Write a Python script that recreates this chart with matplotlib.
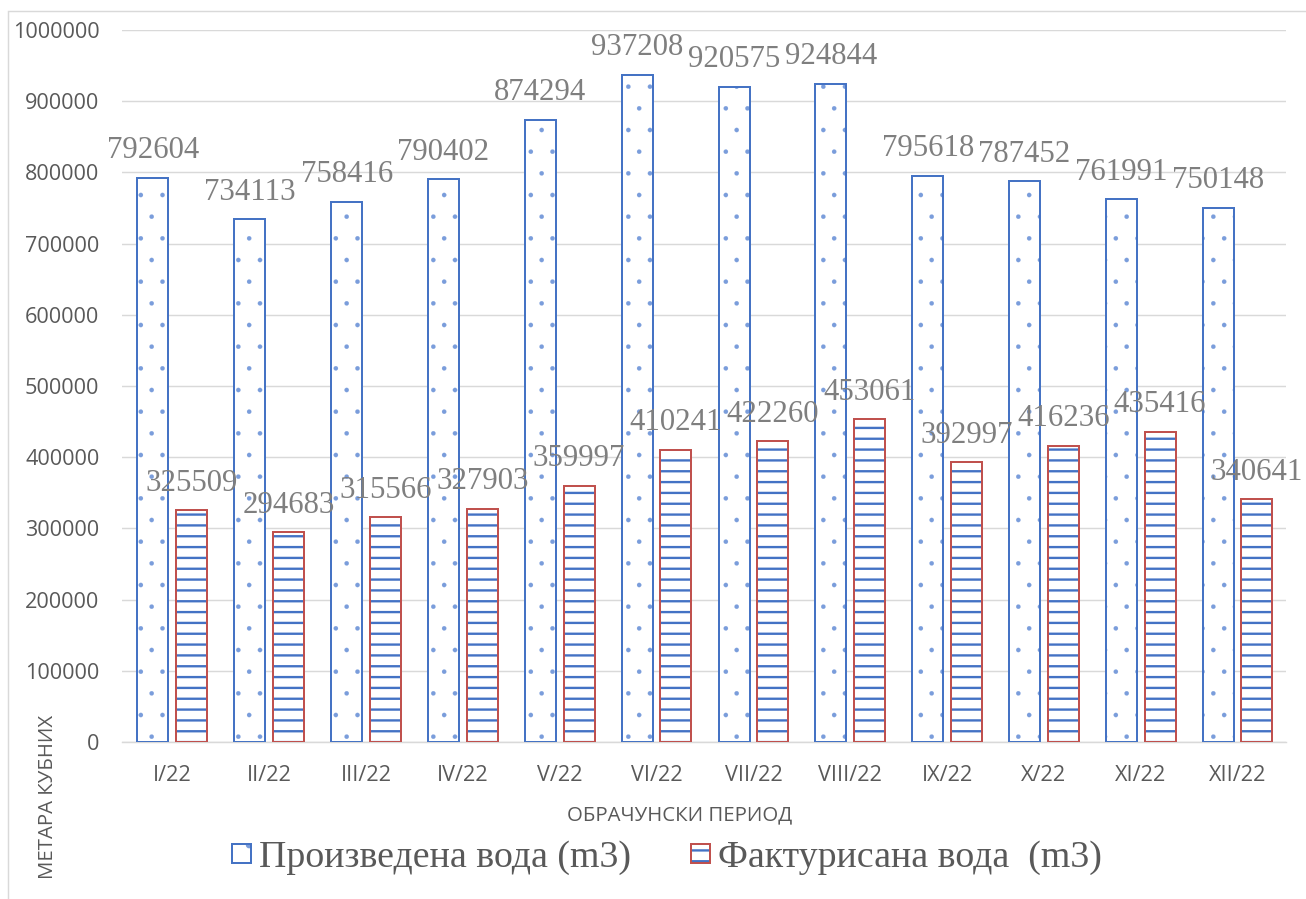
import numpy as np
import matplotlib
matplotlib.use('Agg')
import matplotlib.pyplot as plt
from matplotlib.patches import Patch, Rectangle

# data
periods = ['I/22', 'II/22', 'III/22', 'IV/22', 'V/22', 'VI/22', 'VII/22',
           'VIII/22', 'IX/22', 'X/22', 'XI/22', 'XII/22']
produced = [792604, 734113, 758416, 790402, 874294, 937208, 920575,
            924844, 795618, 787452, 761991, 750148]
billed = [325509, 294683, 315566, 327903, 359997, 410241, 422260,
          453061, 392997, 416236, 435416, 340641]

blue = '#4472C4'
dot_blue = '#7a9ddb'
red = '#C0504D'
grey_txt = '#595959'
lbl_txt = '#7f7f7f'

DPI = 130
fig = plt.figure(figsize=(1306 / DPI, 899 / DPI), dpi=DPI)
ax = fig.add_axes([122 / 1306, 1 - 742 / 899, (1286 - 122) / 1306, (742 - 30) / 899])

x = np.arange(len(periods))
w = 0.32
off = 0.2

# produced water: dotted fill with blue outline
plt.rcParams['hatch.linewidth'] = 0.1
ax.bar(x - off, produced, w, color='white', edgecolor=dot_blue, hatch='.', linewidth=0, zorder=2)
ax.bar(x - off, produced, w, fill=False, edgecolor=blue, linewidth=1.1, zorder=3)

# billed water: blue horizontal stripes with red outline
plt.rcParams['hatch.linewidth'] = 1.3
ax.bar(x + off, billed, w, color='white', edgecolor=blue, hatch='--', linewidth=0, zorder=2)
ax.bar(x + off, billed, w, fill=False, edgecolor=red, linewidth=1.1, zorder=3)

for xi, v in zip(x, produced):
    ax.annotate(str(v), (xi - off, v), xytext=(0, 7), textcoords='offset points',
                ha='center', va='bottom', family='Liberation Serif', fontsize=17, color=lbl_txt)
for xi, v in zip(x, billed):
    ax.annotate(str(v), (xi + off, v), xytext=(0, 7), textcoords='offset points',
                ha='center', va='bottom', family='Liberation Serif', fontsize=17, color=lbl_txt)

ax.set_xlim(-0.52, 11.5)
ax.set_ylim(0, 1000000)
ax.set_yticks(np.arange(0, 1000001, 100000))
ax.set_yticklabels([str(t) for t in range(0, 1000001, 100000)])
ax.set_xticks(x)
ax.set_xticklabels(periods)
ax.tick_params(length=0, labelsize=12, labelcolor=grey_txt)
ax.tick_params(axis='x', pad=12.5)
ax.tick_params(axis='y', pad=12.5)
for lab in ax.get_xticklabels() + ax.get_yticklabels():
    lab.set_family('Open Sans')
ax.grid(axis='y', color='#d9d9d9', linewidth=0.8, zorder=0)
ax.set_axisbelow(True)
for s in ['top', 'right', 'left']:
    ax.spines[s].set_visible(False)
ax.spines['bottom'].set_color('#d9d9d9')
ax.spines['bottom'].set_linewidth(0.8)

fig.text(680 / 1306, 1 - 815 / 899, 'ОБРАЧУНСКИ ПЕРИОД', ha='center', va='center',
         family='Open Sans', fontsize=11.3, color=grey_txt)
fig.text(48 / 1306, 1 - 797 / 899, 'МЕТАРА КУБНИХ', ha='center', va='center', rotation=90,
         family='Open Sans', fontsize=11.3, color=grey_txt)

# chart area border (cropped on right and bottom)
fig.patches.append(Rectangle((8 / 1306, -0.1), 1.2, 1.1 - 11 / 899, transform=fig.transFigure,
                             fill=False, edgecolor='#d9d9d9', linewidth=0.8))

plt.rcParams['hatch.linewidth'] = 0.1
h1 = (Patch(facecolor='white', edgecolor=dot_blue, hatch='.', linewidth=0),
      Patch(fill=False, edgecolor=blue, linewidth=1.1))
plt.rcParams['hatch.linewidth'] = 1.3
h2 = (Patch(facecolor='white', edgecolor=blue, hatch='--', linewidth=0),
      Patch(fill=False, edgecolor=red, linewidth=1.1))
leg = fig.legend([h1, h2], ['Произведена вода (m3)', 'Фактурисана вода  (m3)'],
                 loc='center', bbox_to_anchor=(667 / 1306, 1 - 858 / 899), ncol=2, frameon=False,
                 prop={'family': 'Liberation Serif', 'size': 21}, handlelength=0.5, handleheight=0.42,
                 handletextpad=0.2, columnspacing=1.6)
for t in leg.get_texts():
    t.set_color(grey_txt)

fig.savefig('out.png', dpi=DPI)
